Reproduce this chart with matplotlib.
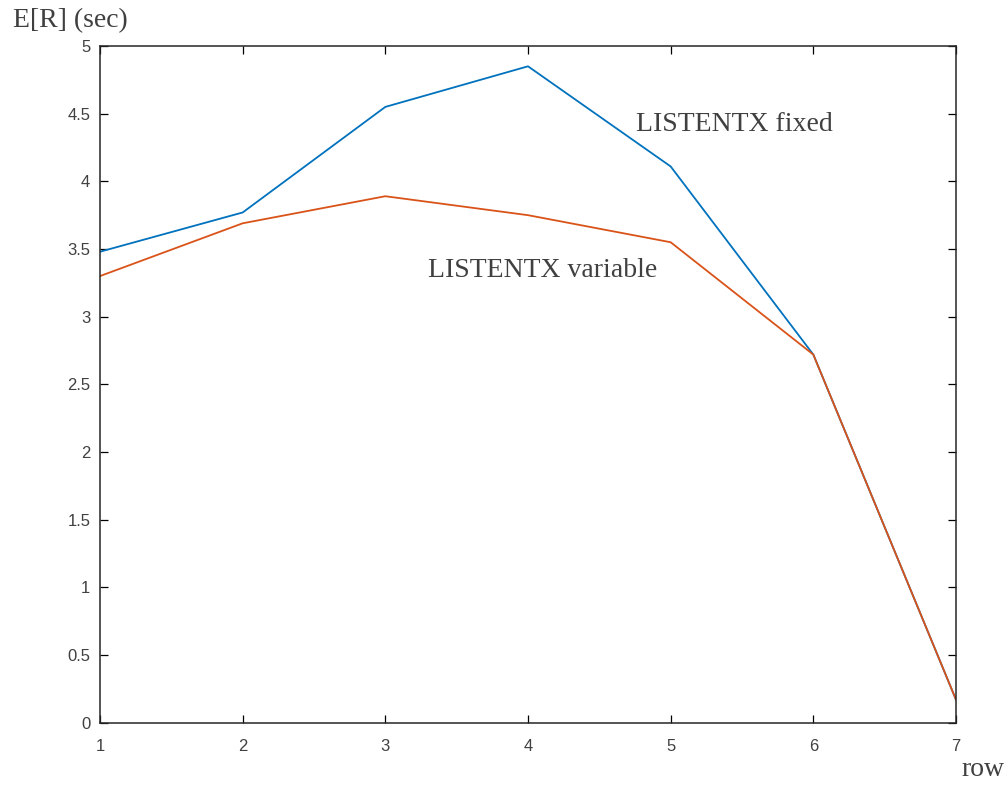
import matplotlib
matplotlib.use("Agg")
import matplotlib.pyplot as plt

rows = [1, 2, 3, 4, 5, 6, 7]
fixed = [3.48, 3.77, 4.55, 4.85, 4.11, 2.72, 0.17]
variable = [3.30, 3.69, 3.89, 3.75, 3.55, 2.72, 0.17]
yticks = [0, 0.5, 1, 1.5, 2, 2.5, 3, 3.5, 4, 4.5, 5]
ytick_labels = ["0", "0.5", "1", "1.5", "2", "2.5", "3", "3.5", "4", "4.5", "5"]

W, H = 1007, 785
fig = plt.figure(figsize=(W / 100, H / 100), dpi=100)
ax = fig.add_axes([100 / W, (H - 722.7) / H, 856 / W, 676.7 / H])

ax.plot(rows, fixed, color="#0072BD", lw=1.3)
ax.plot(rows, variable, color="#D95319", lw=1.3)

ax.set_xlim(1, 7)
ax.set_ylim(0, 5)
ax.set_xticks(rows)
ax.set_yticks(yticks)
ax.set_yticklabels(ytick_labels)
ax.tick_params(direction="in", top=True, right=True, length=6, width=0.9,
               labelsize=12, labelcolor="#404040")
ax.tick_params(axis="x", pad=12)
ax.tick_params(axis="y", pad=7)
for lab in ax.get_xticklabels() + ax.get_yticklabels():
    lab.set_family("Liberation Sans")
for s in ax.spines.values():
    s.set_linewidth(1.1)
    s.set_color("#262626")

serif = "Liberation Serif"
tc = "#404040"
fig.text(13 / W, 1 - 21 / H, "E[R] (sec)", family=serif, fontsize=20,
         color=tc, ha="left", va="center")
fig.text(961 / W, 1 - 770 / H, "row", family=serif, fontsize=20,
         color=tc, ha="left", va="center")
ax.text(4.76, 4.42, "LISTENTX fixed", family=serif, fontsize=20,
        color=tc, ha="left", va="center")
ax.text(3.30, 3.34, "LISTENTX variable", family=serif, fontsize=20,
        color=tc, ha="left", va="center")

fig.savefig("out.png", dpi=100)
